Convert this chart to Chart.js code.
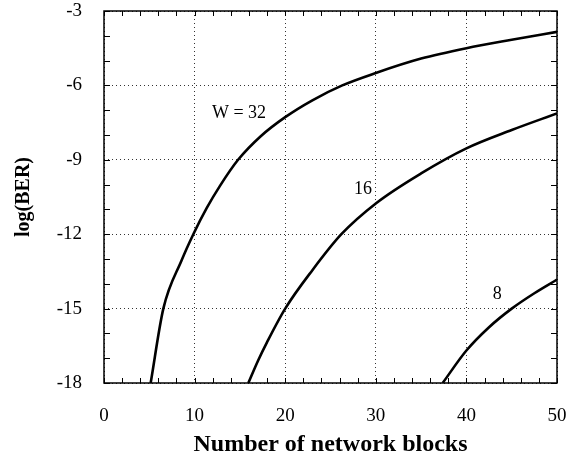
<!DOCTYPE html>
<html>
<head>
<meta charset="utf-8">
<script src="https://cdn.jsdelivr.net/npm/chart.js@4.4.0/dist/chart.umd.min.js"></script>
<style>
html, body { margin: 0; padding: 0; background: #fff; }
</style>
</head>
<body>
<canvas id="ber" width="575" height="464"></canvas>
<script>
// curves: number of blocks vs log(BER)
var w32X = [5.15, 6.55, 8.57, 9.86, 11.33, 12.8, 14.8, 17.3, 20, 23, 26.3, 30, 35, 40, 45, 50];
var w32Y = [-18, -15, -13.05, -12, -10.95, -10.05, -9, -8.05, -7.28, -6.6, -6, -5.5, -4.92, -4.5, -4.16, -3.84];
var w16X = [15.93, 17, 18, 20, 23, 26.2, 30, 35, 40, 45, 50];
var w16Y = [-18, -17.1, -16.35, -15, -13.45, -12, -10.76, -9.55, -8.54, -7.8, -7.13];
var w8X = [37.38, 40, 42.5, 45, 47.5, 50];
var w8Y = [-18, -16.69, -15.75, -15, -14.38, -13.83];

var curveLabels = ['W = 32', '16', '8'];
var labelX = [14.9, 28.6, 43.4];
var labelY = [-7.12, -10.19, -14.43];

function pts(xs, ys) {
	return xs.map(function (v, i) { return {x: v, y: ys[i]}; });
}

var serif = "'Liberation Serif', 'Times New Roman', serif";

// inward minor ticks + box frame
var frame = {
	id: 'frame',
	afterDatasetsDraw: function (chart) {
		var ctx = chart.ctx, a = chart.chartArea;
		var x = chart.scales.x, y = chart.scales.y;
		ctx.save();
		ctx.strokeStyle = '#000';
		ctx.lineWidth = 1;
		ctx.beginPath();
		for (var v = 0; v <= 50; v += 2) {
			var px = Math.round(x.getPixelForValue(v)) + 0.5;
			ctx.moveTo(px, a.bottom); ctx.lineTo(px, a.bottom - 5);
			ctx.moveTo(px, a.top); ctx.lineTo(px, a.top + 5);
		}
		for (var w = -18; w <= -3; w++) {
			var py = Math.round(y.getPixelForValue(w)) + 0.5;
			ctx.moveTo(a.left, py); ctx.lineTo(a.left + 6, py);
			ctx.moveTo(a.right, py); ctx.lineTo(a.right - 6, py);
		}
		ctx.stroke();
		ctx.lineWidth = 1.5;
		ctx.strokeRect(a.left, a.top, a.right - a.left, a.bottom - a.top);
		ctx.restore();
	},
	afterDraw: function (chart) {
		var ctx = chart.ctx;
		var x = chart.scales.x, y = chart.scales.y;
		ctx.save();
		ctx.fillStyle = '#000';
		ctx.font = '18px ' + serif;
		ctx.textAlign = 'center';
		ctx.textBaseline = 'middle';
		for (var i = 0; i < curveLabels.length; i++) {
			ctx.fillText(curveLabels[i], x.getPixelForValue(labelX[i]), y.getPixelForValue(labelY[i]));
		}
		ctx.restore();
	}
};

var line = function (xs, ys) {
	return {
		data: pts(xs, ys),
		borderColor: '#000',
		borderWidth: 2.6,
		pointRadius: 0,
		fill: false,
		cubicInterpolationMode: 'monotone'
	};
};

var ctx = document.getElementById('ber');
var myChart = new Chart(ctx, {
	type: 'line',
	data: {
		datasets: [line(w32X, w32Y), line(w16X, w16Y), line(w8X, w8Y)]
	},
	plugins: [frame],
	options: {
		responsive: false,
		animation: false,
		layout: { padding: { top: 11, right: 18, left: 0, bottom: 0 } },
		plugins: { legend: { display: false }, tooltip: { enabled: false } },
		scales: {
			x: {
				type: 'linear',
				min: 0,
				max: 50,
				ticks: { stepSize: 10, color: '#000', padding: 22, font: { family: serif, size: 19 } },
				grid: { color: '#333', lineWidth: 1, drawTicks: false },
				border: { display: false, dash: [1, 3] },
				title: {
					display: true,
					text: 'Number of network blocks',
					color: '#000',
					padding: { top: 0, bottom: 5 },
					font: { family: serif, size: 24, weight: 'bold' }
				},
				afterFit: function (s) { s.height = 81; s.paddingLeft = 0; s.paddingRight = 0; }
			},
			y: {
				min: -18,
				max: -3,
				ticks: { stepSize: 3, color: '#000', padding: 22, font: { family: serif, size: 19 } },
				grid: { color: '#333', lineWidth: 1, drawTicks: false },
				border: { display: false, dash: [1, 3] },
				title: {
					display: true,
					text: 'log(BER)',
					color: '#000',
					padding: { top: 12, bottom: 0 },
					font: { family: serif, size: 20, weight: 'bold' }
				},
				afterFit: function (s) { s.width = 104; s.paddingTop = 0; s.paddingBottom = 0; }
			}
		}
	}
});
</script>
</body>
</html>
